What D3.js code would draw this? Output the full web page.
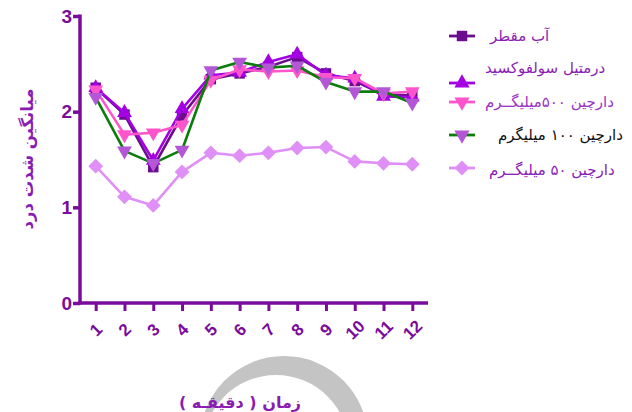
<!DOCTYPE html>
<html>
<head>
<meta charset="utf-8">
<script src="https://cdn.jsdelivr.net/npm/d3@7"></script>
<style>
  html, body { margin: 0; padding: 0; background: #ffffff; }
  svg { display: block; }
</style>
</head>
<body>
<div id="chart"></div>
<script>
(function () {
  'use strict';

  // ---- data ----
  var MINUTES = [1, 2, 3, 4, 5, 6, 7, 8, 9, 10, 11, 12];
  var Y_TICKS = [0, 1, 2, 3];

  var SERIES_NAMES = [
    'آب مقطر',
    'درمتیل سولفوکسید',
    'دارچین ۵۰۰میلیگــرم',
    'دارچین ۱۰۰ میلیگرم',
    'دارچین ۵۰ میلیگــرم'
  ];

  var WATER   = [2.25, 1.97, 1.42, 1.96, 2.34, 2.40, 2.47, 2.57, 2.40, 2.32, 2.18, 2.17];
  var DMSO    = [2.25, 1.99, 1.49, 2.03, 2.38, 2.41, 2.52, 2.60, 2.38, 2.35, 2.16, 2.15];
  var CIN_500 = [2.23, 1.76, 1.78, 1.86, 2.33, 2.44, 2.42, 2.43, 2.36, 2.35, 2.19, 2.21];
  var CIN_100 = [2.15, 1.59, 1.46, 1.60, 2.43, 2.52, 2.46, 2.48, 2.31, 2.21, 2.21, 2.09];
  var CIN_50  = [1.43, 1.11, 1.02, 1.37, 1.57, 1.54, 1.57, 1.62, 1.63, 1.48, 1.46, 1.45];

  var X_TITLE = 'زمان ( دقیقـه )';
  var Y_TITLE = 'میانگین شدت درد';

  // ---- styles ----
  var W = 632, H = 412;
  var AXIS_COLOR = '#7a0c9c';
  var TEXT_COLOR = '#8a1cb4';
  var ARABIC_FONT = "'DejaVu Sans', 'Noto Sans', sans-serif";
  var NUM_FONT = "Arial, 'Liberation Sans', sans-serif";

  var STYLES = [
    { line: '#6b0d8f', marker: '#6b0d8f', shape: 'square',   rot: 0 },
    { line: '#a400e4', marker: '#a400e4', shape: 'triangle', rot: 0 },
    { line: '#ff55cc', marker: '#ff55cc', shape: 'triangle', rot: 180 },
    { line: '#0a7d0a', marker: '#b457d6', shape: 'triangle', rot: 180 },
    { line: '#df8ff5', marker: '#df8ff5', shape: 'square',   rot: 45 }
  ];
  var SERIES = [WATER, DMSO, CIN_500, CIN_100, CIN_50];

  var LEGEND_LINE_Y = [36, 83, 102, 135, 168];
  var LEGEND_TEXT_Y = [36, 68, 102, 135, 170];
  var LEGEND_TEXT_X = [490, 485, 485, 498, 489];
  var LEGEND_TEXT_COLOR = [TEXT_COLOR, TEXT_COLOR, '#9a34c4', '#111111', TEXT_COLOR];
  var LEGEND_TEXT_SIZE = [15, 15, 15, 15, 15];

  var svg = d3.select('#chart').append('svg')
    .attr('width', W)
    .attr('height', H);

  // watermark crescent at the bottom
  function circlePath(cx, cy, r) {
    return 'M' + (cx - r) + ',' + cy +
      'a' + r + ',' + r + ' 0 1,0 ' + (2 * r) + ',0' +
      'a' + r + ',' + r + ' 0 1,0 ' + (-2 * r) + ',0Z';
  }
  svg.append('path')
    .attr('d', circlePath(284, 440, 84) + circlePath(276, 448, 73))
    .attr('fill', '#c4c4c4')
    .attr('fill-rule', 'evenodd');

  var x = d3.scaleLinear().domain([1, 12]).range([95.7, 412.3]);
  var y = d3.scaleLinear().domain([0, 3]).range([303, 16]);

  // ---- axes ----
  var yAxis = svg.append('g')
    .attr('transform', 'translate(80,0)')
    .call(d3.axisLeft(y).tickValues(Y_TICKS).tickSize(7).tickPadding(1).tickFormat(d3.format('d')));
  yAxis.select('.domain').remove();
  yAxis.selectAll('line').attr('stroke', AXIS_COLOR).attr('stroke-width', 3.5);
  yAxis.selectAll('text')
    .attr('fill', AXIS_COLOR)
    .attr('font-family', NUM_FONT)
    .attr('font-weight', 'bold')
    .attr('font-size', '19px');
  svg.append('line')
    .attr('x1', 80).attr('x2', 80)
    .attr('y1', y(3) - 1.5).attr('y2', y(0) + 1.5)
    .attr('stroke', AXIS_COLOR).attr('stroke-width', 3.5);

  var xAxis = svg.append('g')
    .attr('transform', 'translate(0,' + y(0) + ')')
    .call(d3.axisBottom(x).tickValues(MINUTES).tickSize(8).tickFormat(d3.format('d')));
  xAxis.select('.domain').remove();
  xAxis.selectAll('line').attr('stroke', AXIS_COLOR).attr('stroke-width', 3);
  xAxis.selectAll('text')
    .attr('fill', AXIS_COLOR)
    .attr('font-family', NUM_FONT)
    .attr('font-weight', 'bold')
    .attr('font-size', '17px')
    .attr('text-anchor', 'middle')
    .attr('dominant-baseline', 'central')
    .attr('y', 0)
    .attr('dy', 0)
    .attr('transform', 'translate(0,27) rotate(-45)');
  svg.append('line')
    .attr('x1', 78).attr('x2', 428)
    .attr('y1', y(0)).attr('y2', y(0))
    .attr('stroke', AXIS_COLOR).attr('stroke-width', 3.5);

  // ---- titles ----
  svg.append('text')
    .attr('transform', 'translate(27,159) rotate(-90)')
    .attr('text-anchor', 'middle')
    .attr('dominant-baseline', 'central')
    .attr('fill', TEXT_COLOR)
    .attr('font-family', ARABIC_FONT)
    .attr('font-weight', 'bold')
    .attr('font-size', '16.5px')
    .text(Y_TITLE);

  svg.append('text')
    .attr('x', 240).attr('y', 402)
    .attr('text-anchor', 'middle')
    .attr('dominant-baseline', 'central')
    .attr('fill', TEXT_COLOR)
    .attr('font-family', ARABIC_FONT)
    .attr('font-weight', 'bold')
    .attr('font-size', '16px')
    .text(X_TITLE);

  // ---- series ----
  function symbolFor(st, size) {
    var type = st.shape === 'square' ? d3.symbolSquare : d3.symbolTriangle;
    return d3.symbol().type(type).size(size)();
  }

  var line = d3.line()
    .x(function (d, i) { return x(MINUTES[i]); })
    .y(function (d) { return y(d); });

  SERIES.forEach(function (vals, s) {
    var st = STYLES[s];
    var g = svg.append('g');
    g.append('path')
      .attr('d', line(vals))
      .attr('fill', 'none')
      .attr('stroke', st.line)
      .attr('stroke-width', 2.6)
      .attr('stroke-linejoin', 'round');
    g.selectAll('path.pt')
      .data(vals)
      .enter().append('path')
      .attr('class', 'pt')
      .attr('d', symbolFor(st, st.shape === 'square' ? 110 : 95))
      .attr('transform', function (d, i) {
        return 'translate(' + x(MINUTES[i]) + ',' + y(d) + ') rotate(' + st.rot + ')';
      })
      .attr('fill', st.marker);
  });

  // ---- legend ----
  var legend = svg.append('g');
  SERIES_NAMES.forEach(function (name, i) {
    var st = STYLES[i];
    var ly = LEGEND_LINE_Y[i];
    legend.append('line')
      .attr('x1', 449).attr('x2', 475)
      .attr('y1', ly).attr('y2', ly)
      .attr('stroke', st.line)
      .attr('stroke-width', 2.8);
    legend.append('path')
      .attr('d', symbolFor(st, st.shape === 'square' ? 110 : 100))
      .attr('transform', 'translate(462,' + ly + ') rotate(' + st.rot + ')')
      .attr('fill', st.marker);
    legend.append('text')
      .attr('x', LEGEND_TEXT_X[i])
      .attr('y', LEGEND_TEXT_Y[i])
      .attr('dominant-baseline', 'central')
      .attr('fill', LEGEND_TEXT_COLOR[i])
      .attr('font-family', ARABIC_FONT)
      .attr('font-size', LEGEND_TEXT_SIZE[i] + 'px')
      .text(name);
  });
})();
</script>
</body>
</html>
